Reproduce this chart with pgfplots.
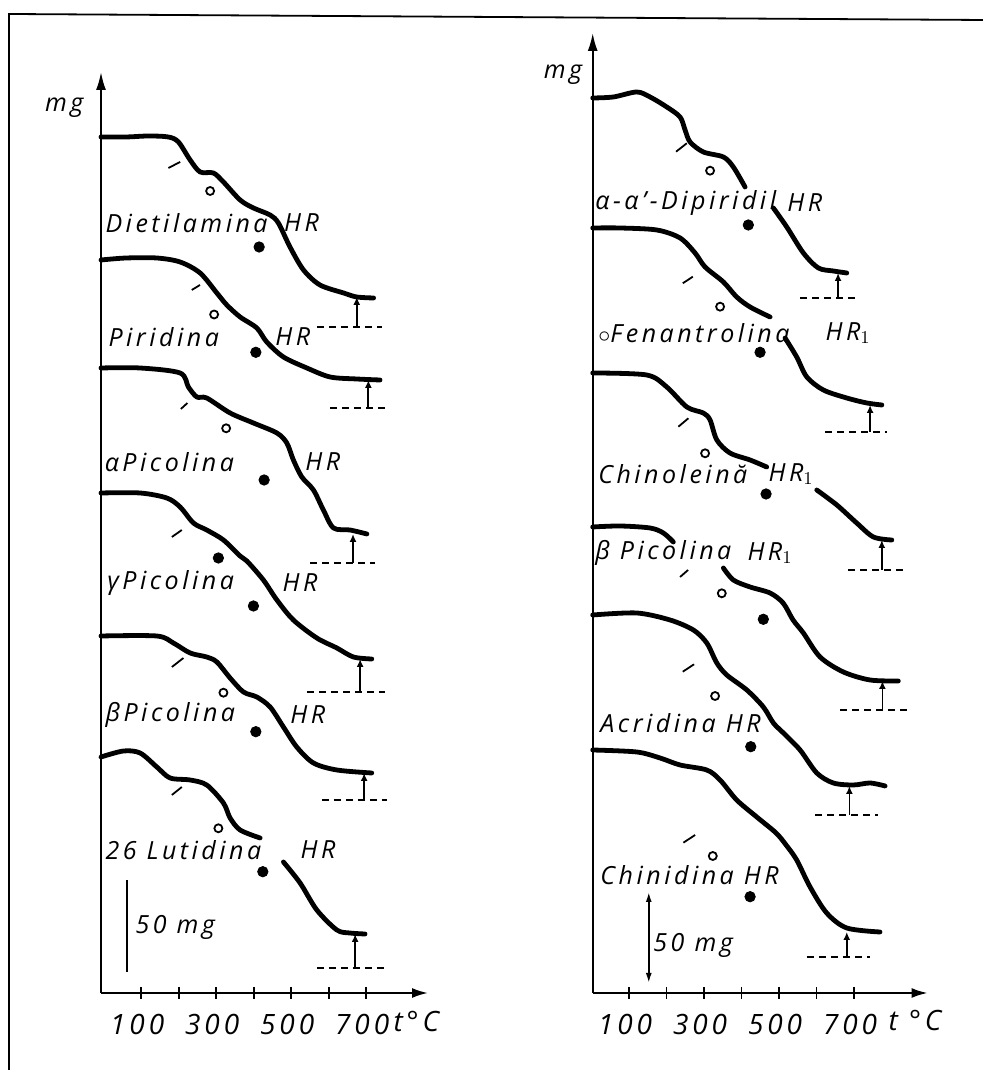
\documentclass[border=0pt]{standalone}
\usepackage{fontspec}
\setmainfont{Open Sans}[LetterSpace=14]
\usepackage{pgfplots}
\pgfplotsset{compat=1.18}
\usetikzlibrary{arrows.meta}

% thermogravimetric curves, t in deg C, vertical offset in drawing units (92 units = 50 mg)
\pgfplotsset{
  tga/.style={
    x=0.1875pt, y=0.5pt, ymin=0, anchor=south west, clip=false,
    axis x line=bottom, axis y line=left,
    axis line style={line width=1pt},
    x axis line style={-{Latex[length=8pt,width=5pt]}},
    y axis line style={-{Latex[length=9pt,width=5pt]}},
    xtick={100,200,...,700}, xticklabels={100,,300,,500,,700}, ytick=\empty,
    major tick length=6pt, tick align=center, tick style={line width=0.9pt,black},
    xticklabel style={font=\fontsize{14}{14}\selectfont\itshape, xshift=-2pt, yshift=-4pt},
  },
  curve/.style={black, line width=2.4pt, smooth, tension=0.5, line cap=round, line join=round},
  slash/.style={black, line width=0.9pt},
  base/.style={black, line width=0.8pt, dash pattern=on 3.5pt off 2.5pt},
  bar/.style={black, line width=0.9pt, -{Latex[length=4pt,width=3.5pt]}},
  opn/.style={black, only marks, mark=o, mark size=2pt, mark options={line width=0.9pt}},
  fil/.style={black, only marks, mark=*, mark size=2.6pt},
}
\tikzset{lab/.style={anchor=west, inner sep=0pt, font=\fontsize{12.5}{13}\selectfont\itshape}}

\begin{document}
\begin{tikzpicture}
\path[use as bounding box] (0,0) rectangle (491.5pt,535pt);
\draw[line width=0.9pt] (4.5pt,0) -- (4.5pt,528pt) -- (491.5pt,525pt);

%% left panel
\begin{axis}[tga, at={(50.5pt,38.5pt)}, xmin=-7, xmax=865, ymax=921]
% Dietilamina
\addplot[curve] coordinates {(-7,856) (60,856) (120,857) (172.8,856) (199.5,851) (230.7,833) (257.3,821) (292.8,820) (319.5,811) (364,793) (399.5,785) (444,778) (466,770) (497,746) (533,723) (577,708) (640,700) (675,696) (720,695)};
\addplot[slash] coordinates {(172.8,825) (204,831)};
\addplot[opn] coordinates {(284,802)};
\addplot[fil] coordinates {(414.7,746)};
\addplot[base] coordinates {(568.5,666) (742,666)};
\addplot[bar] coordinates {(675,666) (675,696)};
\node[lab] at (axis cs:4,770) {Dietilamina};
\node[lab] at (axis cs:480,770) {HR};
% Piridina
\addplot[curve] coordinates {(-7,733) (60,735) (141.9,735) (204,731) (257.3,720) (301.9,700) (328.5,688) (364,676) (408.5,665) (435,651) (479.5,636) (542,625) (604,616) (675,614) (737,613)};
\addplot[slash] coordinates {(235,703) (257,708)};
\addplot[opn] coordinates {(294.7,678.5)};
\addplot[fil] coordinates {(405.9,640.7)};
\addplot[base] coordinates {(604,585) (755,585)};
\addplot[bar] coordinates {(706,585) (706,613)};
\node[lab] at (axis cs:12,656) {Piridina};
\node[lab] at (axis cs:457,656) {HR};
% alpha-Picolina
\addplot[curve] coordinates {(-7,625) (97.3,625) (204,620) (226,606) (248.5,596) (275,595) (337.3,580) (399.5,570) (462,560) (488.5,550) (506,533) (528.5,516) (559.5,503) (586,483) (613,465) (657,463) (702,459)};
\addplot[slash] coordinates {(206,584) (223.5,590)};
\addplot[opn] coordinates {(326.7,564.7)};
\addplot[fil] coordinates {(428,513)};
\addplot[base] coordinates {(550.7,430) (724,430)};
\addplot[bar] coordinates {(665,430) (665,459)};
\node[lab] at (axis cs:2,531) {αPicolina};
\node[lab] at (axis cs:537,531) {HR};
% gamma-Picolina
\addplot[curve] coordinates {(-7,500) (97.3,500) (168.5,495) (204,486) (239.5,470) (275,463) (319.5,453) (364,437) (382,432) (426,413) (462,393) (506,373) (568.5,355) (622,345) (666,336) (715,334)};
\addplot[slash] coordinates {(182,456) (208.5,463)};
\addplot[fil] coordinates {(306,435) (399.5,387)};
\addplot[base] coordinates {(542,301) (750.7,301)};
\addplot[bar] coordinates {(684,301) (684,334)};
\node[lab] at (axis cs:9,410) {γPicolina};
\node[lab] at (axis cs:476,410) {HR};
% beta-Picolina
\addplot[curve] coordinates {(-7,357) (141.9,357) (186,350) (230.7,340) (275,336) (302,331) (337.3,315) (372.8,301) (408.5,296) (444,286) (479.5,266) (515,246) (559.5,230) (622,223) (715,220)};
\addplot[slash] coordinates {(182,326) (212.8,335)};
\addplot[opn] coordinates {(319.5,300.3)};
\addplot[fil] coordinates {(405.9,261.3)};
\addplot[base] coordinates {(582,193) (755,193)};
\addplot[bar] coordinates {(694.7,193) (694.7,220)};
\node[lab] at (axis cs:4,278) {βPicolina};
\node[lab] at (axis cs:497,278) {HR};
% 2,6-Lutidina
\addplot[curve] coordinates {(-7,236) (52.8,242) (97.3,240) (141.9,226) (177.3,215) (230.7,213) (275,208) (319.5,190) (337.3,175) (364,163) (417.3,155)};
\addplot[curve] coordinates {(479.5,131) (524,110) (568.5,83) (622,63) (657,60) (697,59)};
\addplot[slash] coordinates {(182,198) (208.5,206)};
\addplot[opn] coordinates {(306,164.7)};
\addplot[fil] coordinates {(424.5,121.3)};
\addplot[base] coordinates {(568.5,25) (750.7,25)};
\addplot[bar] coordinates {(670.7,25) (670.7,59)};
\node[lab] at (axis cs:4,143) {26 Lutidina};
\node[lab] at (axis cs:524,143) {HR};
% 50 mg scale
\addplot[black, line width=0.9pt] coordinates {(62.7,21) (62.7,113)};
\node[lab] at (axis cs:84,66) {50 mg};
\node[lab, anchor=center] at (axis cs:-105,885) {mg};
\node[lab, font=\fontsize{14}{14}\selectfont\itshape] at (axis cs:772,-29) {t°C};
\end{axis}

%% right panel
\begin{axis}[tga, at={(296.35pt,38.5pt)}, xmin=3, xmax=896, ymax=960]
% alpha-alpha'-Dipiridil
\addplot[curve] coordinates {(3,895) (58,896) (120.5,901) (156,896) (200.5,886) (236,876) (249.3,863) (262.7,851) (298,841) (351.5,836) (378,826) (409.3,806)};
\addplot[curve] coordinates {(484.8,785) (520.5,766) (564.8,740) (604.8,725) (644.8,722) (680.5,720)};
\addplot[slash] coordinates {(225.3,841.3) (253.9,849.7)};
\addplot[opn] coordinates {(316,822.3)};
\addplot[fil] coordinates {(418,768)};
\addplot[base] coordinates {(556,695) (708,695)};
\addplot[bar] coordinates {(657.3,695) (657.3,720)};
\node[lab] at (axis cs:9,790) {α-α'-Dipiridil};
\node[lab] at (axis cs:521,790) {HR};
% Fenantrolina
\addplot[curve] coordinates {(3,765) (76,765) (174,763) (236,755) (276,740) (302.7,726) (351.5,711) (387,696) (422.7,686) (476,676)};
\addplot[curve] coordinates {(516,655) (547,636) (574,616) (618,603) (680.5,595) (734,590) (774,588)};
\addplot[slash] coordinates {(243.2,709.7) (269.9,716.3)};
\addplot[opn] coordinates {(342.7,686.3)};
\addplot[fil] coordinates {(449.3,640.7)};
\addplot[base] coordinates {(622.7,561) (787,561)};
\addplot[bar] coordinates {(742.7,561) (742.7,588)};
\node[lab] at (axis cs:17,660) {$\circ$Fenantrolina};
\node[lab] at (axis cs:623,660) {HR$_1$};
% Chinoleina
\addplot[curve] coordinates {(3,620) (147,618) (200.5,606) (254,586) (298,580) (316,573) (334,553) (369,540) (422.7,533) (467,526)};
\addplot[curve] coordinates {(600.5,503) (654,488) (707,470) (751.5,456) (800.5,453)};
\addplot[slash] coordinates {(231.5,566.3) (258.1,574.7)};
\addplot[opn] coordinates {(302.7,539.7)};
\addplot[fil] coordinates {(465.3,499)};
\addplot[base] coordinates {(684,423) (836,423)};
\addplot[bar] coordinates {(774,423) (774,453)};
\node[lab] at (axis cs:17,519) {Chinoleină};
\node[lab] at (axis cs:471,519) {HR$_1$};
% beta-Picolina HR1
\addplot[curve] coordinates {(3,466) (76,467) (156,465) (191.5,460) (218,451)};
\addplot[curve] coordinates {(351.5,425) (378,413) (422.7,406) (476,400) (510.7,390) (537.3,373) (564.8,360) (609.3,336) (671.5,321) (742.7,313) (818,312)};
\addplot[slash] coordinates {(236,416) (257.3,423)};
\addplot[opn] coordinates {(347.2,399.7)};
\addplot[fil] coordinates {(458,373.7)};
\addplot[base] coordinates {(662.7,283) (841,283)};
\addplot[bar] coordinates {(775.5,283) (775.5,312)};
\node[lab] at (axis cs:9,440) {β Picolina};
\node[lab] at (axis cs:414.7,440) {HR$_1$};
% Acridina
\addplot[curve] coordinates {(3,378) (120.5,380) (209.3,373) (271.5,363) (307.2,350) (334,330) (360.5,318) (414,303) (458,286) (484.8,270) (511.5,260) (556,243) (600.5,220) (644.8,210) (698,208) (742.7,210) (782.7,207)};
\addplot[slash] coordinates {(243.2,321.3) (273.3,328.7)};
\addplot[opn] coordinates {(329.3,297)};
\addplot[fil] coordinates {(424.5,246.3)};
\addplot[base] coordinates {(596,178) (764,178)};
\addplot[bar] coordinates {(687.5,178) (687.5,207)};
\node[lab] at (axis cs:22.7,270) {Acridina HR};
% Chinidina
\addplot[curve] coordinates {(3,243) (120.5,241) (182.7,235) (236,228) (307.2,223) (342.7,213) (387,193) (440.5,176) (492,160) (518.7,148) (547,133) (582.7,106) (627,80) (680.5,65) (769,61)};
\addplot[slash] coordinates {(244.8,150.3) (276,158)};
\addplot[opn] coordinates {(323.2,137)};
\addplot[fil] coordinates {(422.7,96.3)};
\addplot[base] coordinates {(574,36) (742.7,36)};
\addplot[bar] coordinates {(680.5,36) (680.5,61)};
\node[lab] at (axis cs:22.7,118) {Chinidina HR};
% 50 mg scale
\addplot[black, line width=0.9pt, {Latex[length=5pt,width=3pt]}-{Latex[length=5pt,width=3pt]}] coordinates {(152.5,10) (152.5,101)};
\node[lab] at (axis cs:164,48) {50 mg};
\node[lab, anchor=center] at (axis cs:-76,918) {mg};
\node[lab, font=\fontsize{14}{14}\selectfont\itshape] at (axis cs:791,-27) {t °C};
\end{axis}
\end{tikzpicture}
\end{document}
